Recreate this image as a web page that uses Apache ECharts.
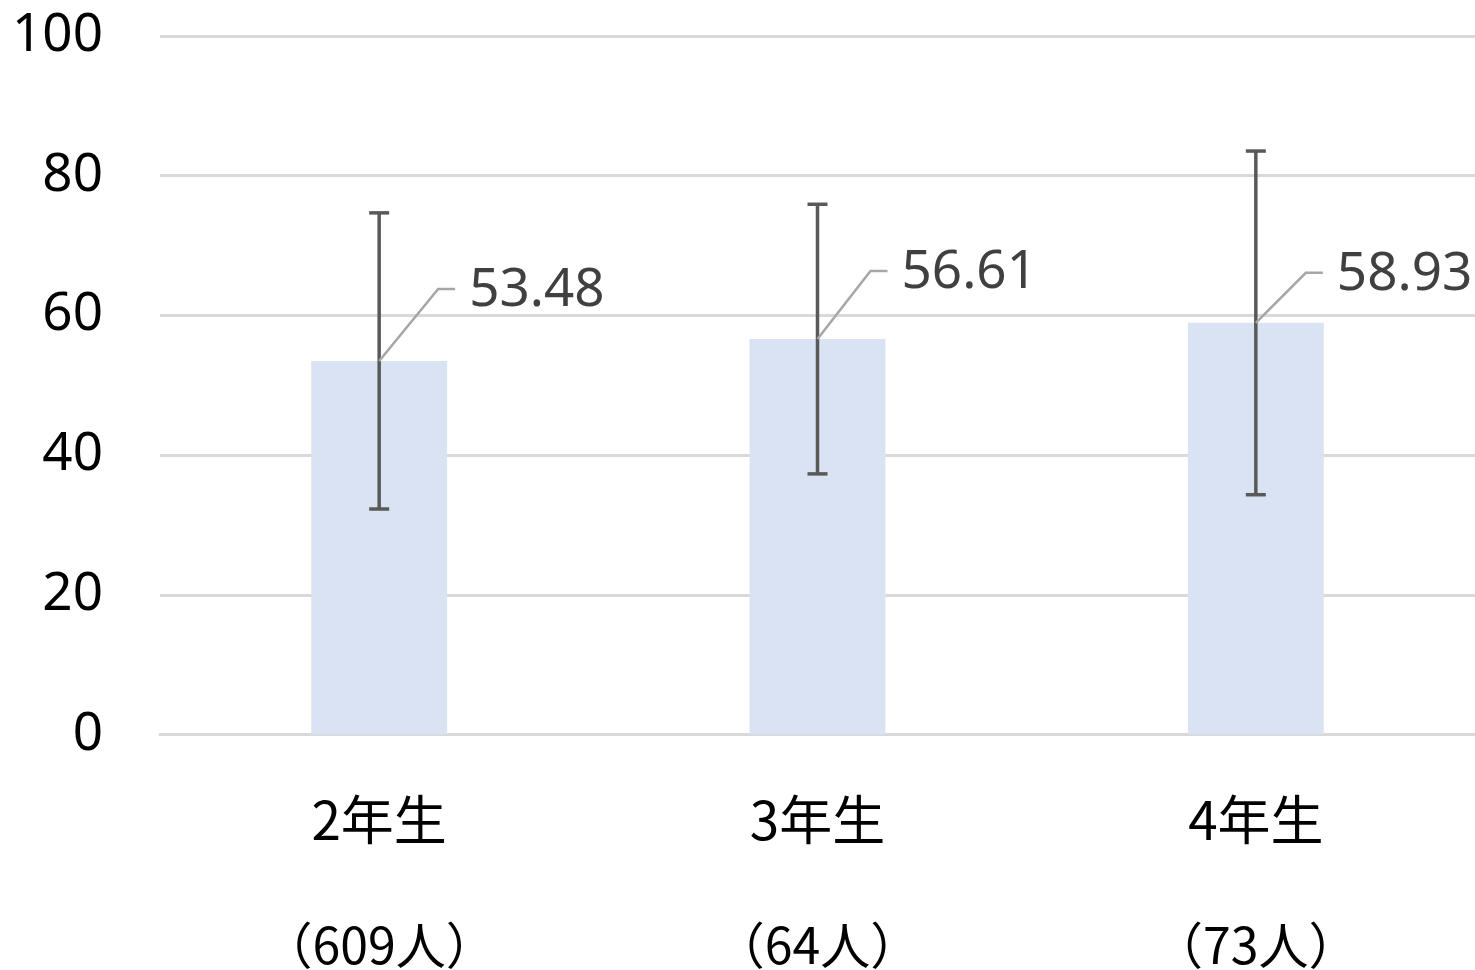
<!DOCTYPE html>
<html>
<head>
<meta charset="utf-8">
<script src="https://cdn.jsdelivr.net/npm/echarts@6/dist/echarts.min.js"></script>
<style>
html,body{margin:0;padding:0;background:#fff;}
#chart{width:1475px;height:970px;}
</style>
</head>
<body>
<div id="chart"></div>
<script>
var categories = ['2年生', '3年生', '4年生'];
var counts = ['（609人）', '（64人）', '（73人）'];
var means = [53.48, 56.61, 58.93];
var sds = [21.2, 19.3, 24.6];
var yTicks = [0, 20, 40, 60, 80, 100];
var labelOffsets = [[59, -72], [53, -68], [50, -50]];

var chart = echarts.init(document.getElementById('chart'));
var numFont = '"Noto Sans", sans-serif';
var cjkFont = '"Noto Sans CJK JP", sans-serif';

var option = {
  animation: false,
  backgroundColor: '#ffffff',
  grid: { left: 160, right: 0, top: 36, bottom: 235, containLabel: false },
  xAxis: {
    type: 'category',
    data: categories,
    axisLine: { show: true, lineStyle: { color: '#D9D9D9', width: 3 } },
    axisTick: { show: false },
    axisLabel: {
      margin: 23,
      interval: 0,
      formatter: function (v, i) { return '{a|' + v + '}\n{b|' + counts[i] + '}'; },
      rich: {
        a: { fontSize: 53, lineHeight: 125, fontFamily: cjkFont, color: '#000000' },
        b: { fontSize: 50, lineHeight: 125, fontFamily: cjkFont, color: '#000000' }
      }
    }
  },
  yAxis: {
    type: 'value',
    min: yTicks[0],
    max: yTicks[yTicks.length - 1],
    interval: 20,
    axisLine: { show: false },
    axisTick: { show: false },
    splitLine: { lineStyle: { color: '#D9D9D9', width: 3 } },
    axisLabel: { margin: 57, fontSize: 53, fontFamily: numFont, color: '#000000' }
  },
  series: [
    {
      type: 'bar',
      data: means,
      barWidth: '31%',
      itemStyle: { color: '#DAE3F3' },
      z: 2
    },
    {
      type: 'custom',
      z: 5,
      data: means.map(function (m, i) { return [i, m - sds[i], m + sds[i]]; }),
      renderItem: function (params, api) {
        var i = api.value(0);
        var lo = api.coord([i, api.value(1)]);
        var hi = api.coord([i, api.value(2)]);
        var cap = 10;
        var st = { stroke: '#595959', lineWidth: 3.5 };
        return {
          type: 'group',
          children: [
            { type: 'line', shape: { x1: hi[0], y1: hi[1], x2: lo[0], y2: lo[1] }, style: st },
            { type: 'line', shape: { x1: hi[0] - cap, y1: hi[1], x2: hi[0] + cap, y2: hi[1] }, style: st },
            { type: 'line', shape: { x1: lo[0] - cap, y1: lo[1], x2: lo[0] + cap, y2: lo[1] }, style: st }
          ]
        };
      }
    },
    {
      type: 'custom',
      z: 6,
      data: means.map(function (m, i) { return [i, m]; }),
      renderItem: function (params, api) {
        var i = api.value(0);
        var v = api.value(1);
        var p = api.coord([i, v]);
        var off = labelOffsets[params.dataIndex];
        var ex = p[0] + off[0], ey = p[1] + off[1];
        return {
          type: 'group',
          children: [
            { type: 'polyline', shape: { points: [[p[0], p[1]], [ex, ey], [ex + 17, ey]] },
              style: { stroke: '#A6A6A6', lineWidth: 2.5, fill: null } },
            { type: 'text', style: { x: ex + 14 + 17, y: ey + 2, text: v.toFixed(2),
              font: '53px ' + numFont, fill: '#404040', align: 'left', verticalAlign: 'middle' } }
          ]
        };
      }
    }
  ]
};
chart.setOption(option);
</script>
</body>
</html>
